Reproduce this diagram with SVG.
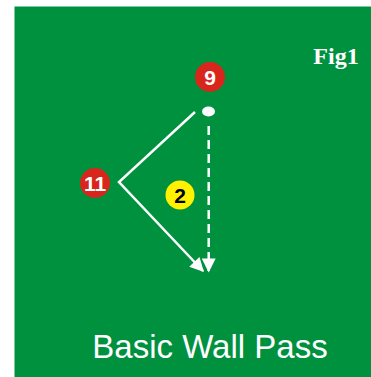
<svg xmlns="http://www.w3.org/2000/svg" width="371" height="377" viewBox="0 0 371 377">
<defs>
<style>
.red{fill:#d9261c}
.yel{fill:#fff200}
.num{font-family:"Liberation Sans",Arial,sans-serif;font-weight:bold;font-size:21px;text-anchor:middle}
.ln{stroke:#fff;stroke-width:2.5;fill:none}
</style>
<marker id="ah" viewBox="0 0 10 10" refX="9" refY="5" markerWidth="16" markerHeight="14" markerUnits="userSpaceOnUse" orient="auto">
<path d="M0,0 L10,5 L0,10 z" fill="#fff"/>
</marker>
</defs>
<rect x="0" y="0" width="371" height="377" fill="#fff"/>
<rect x="14.5" y="6.5" width="357" height="371" fill="#00913f"/>
<g id="connectors">
<polyline class="ln" points="195,112 119,182 203,271" marker-end="url(#ah)"/>
<line class="ln" x1="208.7" y1="126" x2="208.7" y2="271" stroke-dasharray="9,5" marker-end="url(#ah)"/>
</g>
<g id="ball"><ellipse cx="208.5" cy="111.5" rx="6.5" ry="5" fill="#fff"/></g>
<g id="p9"><circle class="red" cx="210" cy="77" r="15"/><text class="num" x="210" y="84.5" fill="#fff">9</text></g>
<g id="p11"><circle class="red" cx="95" cy="183" r="15"/><text class="num" x="95" y="190.5" fill="#fff">11</text></g>
<g id="p2"><circle class="yel" cx="180" cy="195" r="14.5"/><text class="num" x="180" y="202.5" fill="#000">2</text></g>
<g id="fig"><text x="336" y="64" font-family="Liberation Serif,'Times New Roman',serif" font-weight="bold" font-size="24" fill="#fff" text-anchor="middle">Fig1</text></g>
<g id="title"><text x="210" y="358" font-family="Liberation Sans,Arial,sans-serif" font-size="33" fill="#fff" text-anchor="middle">Basic Wall Pass</text></g>
</svg>
